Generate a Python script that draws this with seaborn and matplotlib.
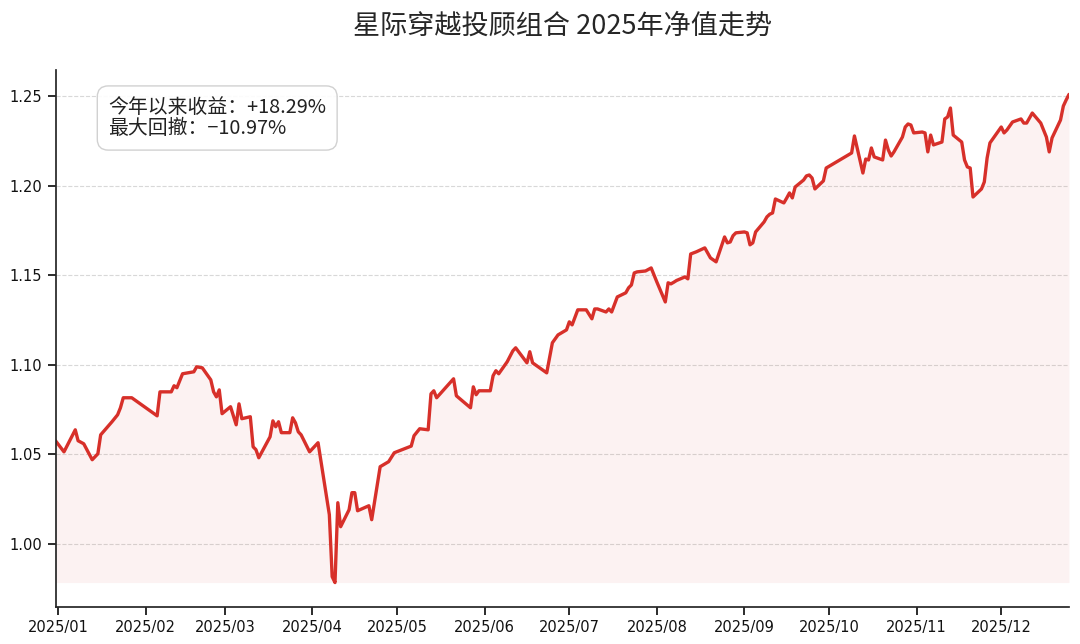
import matplotlib
matplotlib.use("Agg")
import pandas as pd
import matplotlib.pyplot as plt
import matplotlib.dates as mdates
import seaborn as sns

# 净值数据（按图读取的拐点）
dates = [
    "2024-12-31", "2025-01-03", "2025-01-07", "2025-01-08", "2025-01-10", "2025-01-13",
    "2025-01-15", "2025-01-16", "2025-01-20", "2025-01-22", "2025-01-23", "2025-01-24",
    "2025-01-27", "2025-02-05", "2025-02-06", "2025-02-10", "2025-02-11", "2025-02-12",
    "2025-02-14", "2025-02-18", "2025-02-19", "2025-02-21", "2025-02-24", "2025-02-25",
    "2025-02-26", "2025-02-27", "2025-02-28", "2025-03-03", "2025-03-05", "2025-03-06",
    "2025-03-07", "2025-03-10", "2025-03-11", "2025-03-12", "2025-03-13", "2025-03-17",
    "2025-03-18", "2025-03-19", "2025-03-20", "2025-03-21", "2025-03-24", "2025-03-25",
    "2025-03-26", "2025-03-27", "2025-03-28", "2025-03-31", "2025-04-03", "2025-04-07",
    "2025-04-08", "2025-04-09", "2025-04-10", "2025-04-11", "2025-04-14", "2025-04-15",
    "2025-04-16", "2025-04-17", "2025-04-21", "2025-04-22", "2025-04-25", "2025-04-28",
    "2025-04-30", "2025-05-06", "2025-05-07", "2025-05-09", "2025-05-12", "2025-05-13",
    "2025-05-14", "2025-05-15", "2025-05-21", "2025-05-22", "2025-05-27", "2025-05-28",
    "2025-05-29", "2025-05-30", "2025-06-03", "2025-06-04", "2025-06-05", "2025-06-06",
    "2025-06-09", "2025-06-11", "2025-06-12", "2025-06-16", "2025-06-17", "2025-06-18",
    "2025-06-23", "2025-06-25", "2025-06-27", "2025-06-30", "2025-07-01", "2025-07-02",
    "2025-07-04", "2025-07-07", "2025-07-09", "2025-07-10", "2025-07-11", "2025-07-14",
    "2025-07-15", "2025-07-16", "2025-07-18", "2025-07-21", "2025-07-22", "2025-07-23",
    "2025-07-24", "2025-07-25", "2025-07-28", "2025-07-30", "2025-08-01", "2025-08-04",
    "2025-08-05", "2025-08-06", "2025-08-07", "2025-08-08", "2025-08-11", "2025-08-12",
    "2025-08-13", "2025-08-15", "2025-08-18", "2025-08-20", "2025-08-22", "2025-08-25",
    "2025-08-26", "2025-08-27", "2025-08-28", "2025-08-29", "2025-09-01", "2025-09-02",
    "2025-09-03", "2025-09-04", "2025-09-05", "2025-09-08", "2025-09-09", "2025-09-10",
    "2025-09-11", "2025-09-12", "2025-09-15", "2025-09-16", "2025-09-17", "2025-09-18",
    "2025-09-19", "2025-09-22", "2025-09-23", "2025-09-24", "2025-09-25", "2025-09-26",
    "2025-09-29", "2025-09-30", "2025-10-09", "2025-10-10", "2025-10-13", "2025-10-14",
    "2025-10-15", "2025-10-16", "2025-10-17", "2025-10-20", "2025-10-21", "2025-10-22",
    "2025-10-23", "2025-10-24", "2025-10-27", "2025-10-28", "2025-10-29", "2025-10-30",
    "2025-10-31", "2025-11-03", "2025-11-04", "2025-11-05", "2025-11-06", "2025-11-07",
    "2025-11-10", "2025-11-11", "2025-11-12", "2025-11-13", "2025-11-14", "2025-11-17",
    "2025-11-18", "2025-11-19", "2025-11-20", "2025-11-21", "2025-11-24", "2025-11-25",
    "2025-11-26", "2025-11-27", "2025-11-28", "2025-12-01", "2025-12-02", "2025-12-03",
    "2025-12-04", "2025-12-05", "2025-12-08", "2025-12-09", "2025-12-10", "2025-12-11",
    "2025-12-12", "2025-12-15", "2025-12-16", "2025-12-17", "2025-12-18", "2025-12-19",
    "2025-12-22", "2025-12-23", "2025-12-24", "2025-12-25",
]
nav = [
    1.0575, 1.0513, 1.0636, 1.0575, 1.0558, 1.0469,
    1.0502, 1.0608, 1.0681, 1.0720, 1.0759, 1.0815,
    1.0815, 1.0714, 1.0848, 1.0848, 1.0882, 1.0871,
    1.0949, 1.0960, 1.0988, 1.0982, 1.0915, 1.0848,
    1.0820, 1.0859, 1.0726, 1.0765, 1.0664, 1.0781,
    1.0698, 1.0709, 1.0541, 1.0525, 1.0480, 1.0597,
    1.0686, 1.0653, 1.0681, 1.0620, 1.0620, 1.0703,
    1.0675, 1.0625, 1.0608, 1.0513, 1.0564, 1.0162,
    0.9816, 0.9783, 1.0229, 1.0095, 1.0190, 1.0285,
    1.0285, 1.0184, 1.0212, 1.0134, 1.0430, 1.0458,
    1.0508, 1.0545, 1.0603, 1.0642, 1.0636, 1.0837,
    1.0854, 1.0815, 1.0921, 1.0826, 1.0759, 1.0876,
    1.0832, 1.0854, 1.0854, 1.0938, 1.0966, 1.0949,
    1.1016, 1.1077, 1.1094, 1.1010, 1.1072, 1.1010,
    1.0954, 1.1122, 1.1166, 1.1194, 1.1239, 1.1222,
    1.1306, 1.1306, 1.1256, 1.1311, 1.1311, 1.1294,
    1.1311, 1.1294, 1.1378, 1.1401, 1.1429, 1.1445,
    1.1512, 1.1518, 1.1523, 1.1540, 1.1462, 1.1350,
    1.1457, 1.1451, 1.1460, 1.1470, 1.1490, 1.1479,
    1.1618, 1.1630, 1.1652, 1.1596, 1.1574, 1.1713,
    1.1680, 1.1685, 1.1720, 1.1736, 1.1741, 1.1736,
    1.1669, 1.1680, 1.1741, 1.1797, 1.1825, 1.1840,
    1.1847, 1.1925, 1.1903, 1.1930, 1.1959, 1.1931,
    1.1992, 1.2031, 1.2054, 1.2059, 1.2042, 1.1981,
    1.2026, 1.2098, 1.2182, 1.2277, 1.2070, 1.2148,
    1.2143, 1.2210, 1.2160, 1.2143, 1.2254, 1.2199,
    1.2165, 1.2188, 1.2271, 1.2327, 1.2344, 1.2338,
    1.2294, 1.2299, 1.2294, 1.2188, 1.2282, 1.2227,
    1.2243, 1.2372, 1.2383, 1.2433, 1.2282, 1.2243,
    1.2143, 1.2104, 1.2098, 1.1936, 1.1981, 1.2020,
    1.2154, 1.2238, 1.2260, 1.2327, 1.2294, 1.2310,
    1.2333, 1.2355, 1.2372, 1.2349, 1.2349, 1.2377,
    1.2405, 1.2349, 1.2310, 1.2271, 1.2188, 1.2266,
    1.2366, 1.2444, 1.2478, 1.2509,
]

title = "星际穿越投顾组合 2025年净值走势"
ytd_text = "今年以来收益：+18.29%"
mdd_text = "最大回撤：−10.97%"

RED = "#d7302a"
CJK = ["Noto Sans CJK SC", "DejaVu Sans"]

sns.set_theme(style="ticks")
plt.rcParams["font.family"] = ["DejaVu Sans", "Noto Sans CJK SC"]

df = pd.DataFrame({"date": pd.to_datetime(dates), "nav": nav})

fig, ax = plt.subplots(figsize=(10.8, 6.44), dpi=100)
sns.lineplot(data=df, x="date", y="nav", ax=ax, color=RED, linewidth=2.4)
ax.fill_between(df["date"], df["nav"], df["nav"].min(), color=RED, alpha=0.06, linewidth=0)

ax.set_xlim(df["date"].iloc[0], df["date"].iloc[-1])
ax.xaxis.set_major_locator(mdates.MonthLocator())
ax.xaxis.set_major_formatter(mdates.DateFormatter("%Y/%m"))
ax.tick_params(labelsize=10.5, colors="#111111")
ax.grid(axis="y", linestyle="--", color="#cfcfcf", linewidth=0.8, alpha=0.8)
ax.grid(axis="x", visible=False)
sns.despine(ax=ax)
ax.set_xlabel("")
ax.set_ylabel("")

ax.set_title(title, fontsize=19.5, pad=26, family=CJK)
ax.text(0.052, 0.95, ytd_text + "\n" + mdd_text, transform=ax.transAxes,
        va="top", ha="left", fontsize=14.3, family=CJK, color="#222222",
        linespacing=1.02,
        bbox=dict(boxstyle="round,pad=0.55", facecolor="white",
                  edgecolor="#cccccc", alpha=0.9))

fig.subplots_adjust(left=0.0514, right=0.9898, top=0.8913, bottom=0.0575)
fig.savefig("out.png", dpi=100)
plt.close(fig)
